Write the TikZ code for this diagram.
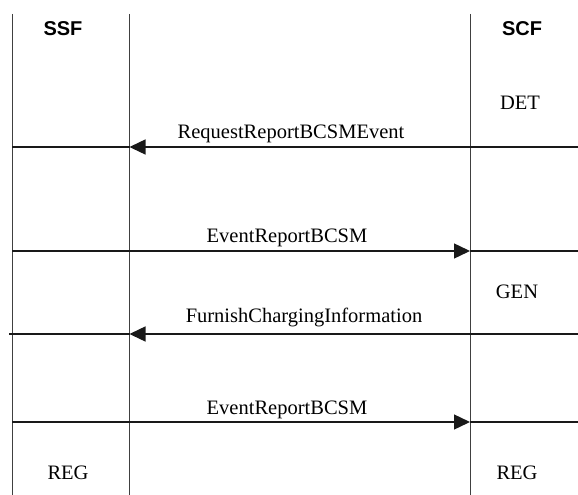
\documentclass[tikz,border=0pt]{standalone}
\usepackage{fontspec}
\setmainfont{Liberation Serif}
\newfontfamily\headfont{Liberation Sans}
\usetikzlibrary{arrows.meta}
\tikzset{
  life/.style={draw=black!75, line width=0.9pt},
  msg/.style={draw=black!90, line width=1.4pt},
  tipmsg/.style={msg, -{Triangle[length=16pt,width=15pt]}},
  lbl/.style={anchor=base, inner sep=0pt, font=\fontsize{20.5}{24}\selectfont},
  head/.style={anchor=base, inner sep=0pt, font=\headfont\bfseries\fontsize{20}{24}\selectfont}
}
\begin{document}
\begin{tikzpicture}[x=1pt,y=-1pt]
\useasboundingbox (0,0) rectangle (578,495);
% lifelines
\coordinate (L1t) at (12,14);   \coordinate (L1b) at (12,495);
\coordinate (L2t) at (129.5,14); \coordinate (L2b) at (129.5,495);
\coordinate (L3t) at (470,14);  \coordinate (L3b) at (470,495);
\draw[life] (L1t) -- (L1b);
\draw[life] (L2t) -- (L2b);
\draw[life] (L3t) -- (L3b);
% headers
\node[head] (ssf) at (63,36) {SSF};
\node[head] (scf) at (522,36) {SCF};
\node[lbl] (det) at (520,109) {DET};
% message 1
\coordinate (m1l) at (12,147); \coordinate (m1a) at (129.5,147); \coordinate (m1r) at (578,147);
\draw[msg] (m1l) -- (m1a);
\draw[tipmsg] (m1r) -- (m1a);
\node[lbl] (t1) at (291,138) {RequestReportBCSMEvent};
% message 2
\coordinate (m2l) at (12,251); \coordinate (m2a) at (470,251); \coordinate (m2r) at (578,251);
\draw[tipmsg] (m2l) -- (m2a);
\draw[msg] (m2a) -- (m2r);
\node[lbl] (t2) at (287,242) {EventReportBCSM};
\node[lbl] (gen) at (517,298) {GEN};
% message 3
\coordinate (m3l) at (9,334); \coordinate (m3a) at (129.5,334); \coordinate (m3r) at (578,334);
\draw[msg] (m3l) -- (m3a);
\draw[tipmsg] (m3r) -- (m3a);
\node[lbl] (t3) at (304,322) {FurnishChargingInformation};
% message 4
\coordinate (m4l) at (12,422); \coordinate (m4a) at (470,422); \coordinate (m4r) at (578,422);
\draw[tipmsg] (m4l) -- (m4a);
\draw[msg] (m4a) -- (m4r);
\node[lbl] (t4) at (287,414) {EventReportBCSM};
% bottom labels
\node[lbl] (reg1) at (68,479) {REG};
\node[lbl] (reg2) at (517,479) {REG};
\end{tikzpicture}
\end{document}
